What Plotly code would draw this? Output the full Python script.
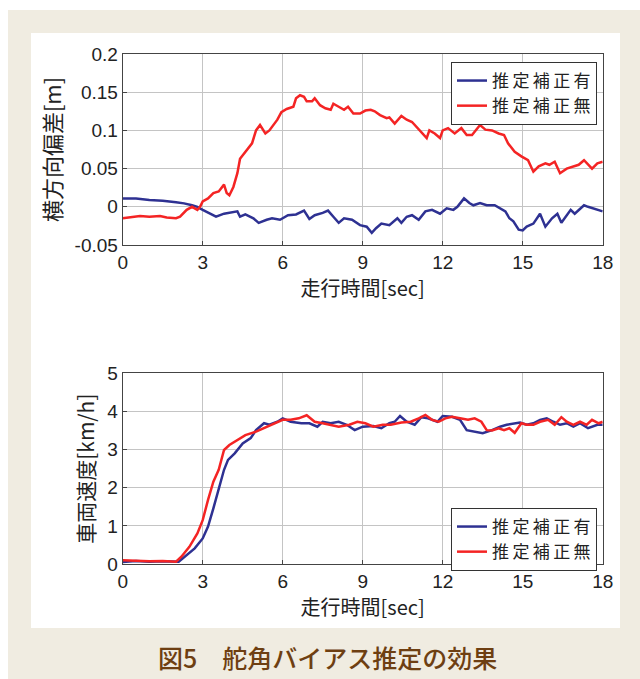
import plotly.graph_objects as go

W, H = 640, 679

# ---- lateral deviation [m] ----
dev_on_t = [0.0, 0.5, 1.0, 1.5, 2.0, 2.3, 2.6, 2.8, 3.0, 3.3, 3.5, 3.8, 4.0, 4.3, 4.4, 4.6, 4.9,
            5.1, 5.4, 5.6, 5.9, 6.2, 6.5, 6.8, 7.0, 7.2, 7.5, 7.7, 7.9, 8.1, 8.3, 8.6, 8.9, 9.15,
            9.34, 9.5, 9.7, 10.0, 10.3, 10.45, 10.65, 10.85, 11.1, 11.35, 11.6, 11.9, 12.15, 12.4,
            12.55, 12.8, 13.0, 13.15, 13.4, 13.65, 13.95, 14.15, 14.35, 14.5, 14.65, 14.85, 15.0,
            15.15, 15.4, 15.65, 15.85, 16.1, 16.3, 16.45, 16.8, 16.95, 17.3, 17.45, 17.8, 18.0]
dev_on = [0.011, 0.011, 0.009, 0.008, 0.006, 0.0045, 0.002, 0.0, -0.004, -0.009, -0.013, -0.009,
          -0.008, -0.006, -0.013, -0.010, -0.015, -0.021, -0.017, -0.015, -0.017, -0.011, -0.010,
          -0.005, -0.016, -0.011, -0.008, -0.005, -0.013, -0.021, -0.015, -0.017, -0.024, -0.026,
          -0.034, -0.028, -0.022, -0.024, -0.015, -0.021, -0.013, -0.011, -0.017, -0.006, -0.004,
          -0.009, -0.002, -0.004, 0.0, 0.011, 0.005, 0.002, 0.005, 0.002, 0.002, -0.002, -0.006,
          -0.015, -0.019, -0.030, -0.031, -0.026, -0.022, -0.009, -0.026, -0.015, -0.009, -0.021,
          -0.004, -0.009, 0.002, 0.0, -0.004, -0.006]

dev_off_t = [0.0, 0.4, 0.65, 1.0, 1.4, 1.65, 2.0, 2.15, 2.4, 2.6, 2.8, 2.9, 3.0, 3.2, 3.4, 3.6,
             3.8, 3.9, 4.0, 4.15, 4.3, 4.4, 4.65, 4.85, 5.0, 5.15, 5.35, 5.5, 5.8, 5.95, 6.15, 6.4,
             6.5, 6.65, 6.8, 6.9, 7.1, 7.2, 7.4, 7.6, 7.8, 7.9, 8.1, 8.3, 8.45, 8.65, 8.9, 9.1,
             9.3, 9.45, 9.65, 9.9, 10.0, 10.2, 10.45, 10.65, 10.85, 11.0, 11.2, 11.4, 11.5, 11.7,
             11.9, 12.0, 12.2, 12.45, 12.7, 12.9, 13.1, 13.4, 13.6, 13.85, 14.1, 14.3, 14.45, 14.7,
             14.95, 15.2, 15.4, 15.6, 15.85, 16.0, 16.2, 16.4, 16.65, 16.9, 17.1, 17.3, 17.45,
             17.6, 17.8, 18.0]
dev_off = [-0.015, -0.013, -0.012, -0.013, -0.012, -0.014, -0.015, -0.013, -0.004, 0.0, -0.004,
           0.0, 0.007, 0.011, 0.018, 0.020, 0.029, 0.018, 0.015, 0.026, 0.044, 0.063, 0.074,
           0.083, 0.100, 0.107, 0.096, 0.100, 0.114, 0.124, 0.128, 0.131, 0.142, 0.146, 0.144,
           0.138, 0.138, 0.142, 0.133, 0.129, 0.127, 0.135, 0.131, 0.127, 0.131, 0.122, 0.122,
           0.126, 0.127, 0.125, 0.120, 0.116, 0.117, 0.109, 0.119, 0.114, 0.111, 0.105, 0.098,
           0.090, 0.100, 0.096, 0.090, 0.100, 0.103, 0.096, 0.103, 0.094, 0.094, 0.107, 0.101,
           0.100, 0.096, 0.094, 0.083, 0.072, 0.066, 0.061, 0.046, 0.053, 0.057, 0.055, 0.059,
           0.044, 0.050, 0.053, 0.055, 0.061, 0.055, 0.050, 0.057, 0.059]

# ---- vehicle speed [km/h] ----
spd_on_t = [0.0, 0.5, 1.0, 1.5, 2.1, 2.4, 2.7, 3.0, 3.2, 3.4, 3.6, 3.8, 3.95, 4.2, 4.5, 4.8, 5.0,
            5.3, 5.5, 5.8, 6.0, 6.3, 6.7, 7.0, 7.3, 7.5, 7.8, 8.1, 8.4, 8.7, 9.0, 9.4, 9.7, 10.0,
            10.2, 10.4, 10.65, 10.95, 11.2, 11.45, 11.8, 12.0, 12.35, 12.65, 12.9, 13.15, 13.5,
            13.85, 14.15, 14.4, 14.65, 14.9, 15.15, 15.4, 15.65, 15.9, 16.15, 16.4, 16.65, 16.9,
            17.15, 17.45, 17.8, 18.0]
spd_on = [0.05, 0.08, 0.06, 0.07, 0.06, 0.24, 0.41, 0.67, 0.98, 1.46, 1.94, 2.47, 2.73, 2.90,
          3.16, 3.30, 3.51, 3.69, 3.65, 3.73, 3.82, 3.73, 3.69, 3.69, 3.60, 3.73, 3.69, 3.73,
          3.65, 3.51, 3.60, 3.62, 3.56, 3.69, 3.73, 3.88, 3.73, 3.65, 3.85, 3.82, 3.73, 3.88,
          3.86, 3.78, 3.51, 3.47, 3.43, 3.51, 3.60, 3.65, 3.69, 3.71, 3.65, 3.69, 3.78, 3.82,
          3.73, 3.65, 3.69, 3.60, 3.69, 3.56, 3.65, 3.65]

spd_off_t = [0.0, 0.5, 1.0, 1.5, 2.0, 2.2, 2.5, 2.8, 3.0, 3.2, 3.4, 3.6, 3.8, 4.0, 4.3, 4.6, 5.0,
             5.3, 5.6, 6.0, 6.3, 6.6, 6.9, 7.2, 7.5, 7.8, 8.1, 8.5, 8.8, 9.1, 9.4, 9.75, 10.05,
             10.45, 10.8, 11.1, 11.35, 11.6, 11.85, 12.1, 12.35, 12.65, 12.95, 13.2, 13.45, 13.65,
             13.85, 14.1, 14.3, 14.5, 14.7, 14.95, 15.15, 15.4, 15.65, 15.95, 16.2, 16.45, 16.65,
             16.9, 17.15, 17.4, 17.6, 17.85, 18.0]
spd_off = [0.10, 0.09, 0.07, 0.08, 0.06, 0.19, 0.45, 0.80, 1.15, 1.68, 2.16, 2.47, 2.99, 3.12,
           3.25, 3.38, 3.47, 3.56, 3.65, 3.78, 3.78, 3.82, 3.90, 3.73, 3.69, 3.65, 3.60, 3.65,
           3.73, 3.69, 3.60, 3.65, 3.65, 3.71, 3.73, 3.82, 3.91, 3.78, 3.73, 3.82, 3.86, 3.82,
           3.78, 3.82, 3.73, 3.51, 3.50, 3.56, 3.51, 3.56, 3.44, 3.69, 3.65, 3.65, 3.73, 3.78,
           3.65, 3.85, 3.73, 3.65, 3.73, 3.65, 3.78, 3.69, 3.73]

# ---- tick labels / names ----
x_ticks = [0, 3, 6, 9, 12, 15, 18]
dev_ticks = [-0.05, 0, 0.05, 0.1, 0.15, 0.2]
dev_tick_text = ["-0.05", "0", "0.05", "0.1", "0.15", "0.2"]
spd_ticks = [0, 1, 2, 3, 4, 5]
series_names = ["推\u2009定\u2009補\u2009正\u2009有", "推\u2009定\u2009補\u2009正\u2009無"]
x_title = "走行時間[sec]"
dev_title = "横方向偏差[m]"
spd_title = "車両速度[km/h]"
caption = "図5　舵角バイアス推定の効果"

BLUE = "#2e3192"
RED = "#f42424"
BEIGE = "#f0ece1"
GRID = "#c4c4c4"
FRAME = "#444444"
TICK_FONT = dict(family="Liberation Sans, Arial, sans-serif", size=19, color="#222222")
JP = "Noto Sans CJK JP, sans-serif"


def px_x(p):
    return p / W


def px_y(p):
    return 1 - p / H


fig = go.Figure()
fig.add_trace(go.Scatter(x=dev_on_t, y=dev_on, mode="lines", name=series_names[0],
                         line=dict(color=BLUE, width=2.5), xaxis="x", yaxis="y",
                         legend="legend"))
fig.add_trace(go.Scatter(x=dev_off_t, y=dev_off, mode="lines", name=series_names[1],
                         line=dict(color=RED, width=2.5), xaxis="x", yaxis="y",
                         legend="legend"))
fig.add_trace(go.Scatter(x=spd_on_t, y=spd_on, mode="lines", name=series_names[0],
                         line=dict(color=BLUE, width=2.5), xaxis="x2", yaxis="y2",
                         legend="legend2"))
fig.add_trace(go.Scatter(x=spd_off_t, y=spd_off, mode="lines", name=series_names[1],
                         line=dict(color=RED, width=2.5), xaxis="x2", yaxis="y2",
                         legend="legend2"))

x_dom = [px_x(122.7), px_x(602.7)]
common_x = dict(range=[0, 18], tickvals=x_ticks, showgrid=True, gridcolor=GRID, gridwidth=1,
                zeroline=False, showline=True, linecolor=FRAME, linewidth=1, mirror=True,
                ticks="inside", ticklen=4, tickcolor=FRAME, tickfont=TICK_FONT,
                automargin=False,
                title=dict(text=x_title, font=dict(family=JP, size=20, color="#222222"),
                           standoff=1),
                domain=x_dom)
common_y = dict(showgrid=True, gridcolor=GRID, gridwidth=1, zeroline=False, showline=True,
                linecolor=FRAME, linewidth=1, mirror=True, ticks="inside", ticklen=4,
                tickcolor=FRAME, tickfont=TICK_FONT, automargin=False)

legend_style = dict(bgcolor="white", bordercolor="#333333", borderwidth=1,
                    font=dict(family=JP, size=17, color="#222222"),
                    xanchor="right", yanchor="top", itemwidth=30, tracegroupgap=0,
                    xref="paper", yref="paper")

fig.update_layout(
    template="none",
    width=W, height=H,
    margin=dict(l=0, r=0, t=0, b=0, autoexpand=False),
    paper_bgcolor="white",
    plot_bgcolor="white",
    showlegend=True,
    xaxis=dict(common_x, anchor="y"),
    yaxis=dict(common_y, range=[-0.05, 0.2], tickvals=dev_ticks, ticktext=dev_tick_text,
               domain=[px_y(245), px_y(54)], anchor="x",
               title=dict(text=dev_title, font=dict(family=JP, size=22, color="#222222"),
                          standoff=6)),
    xaxis2=dict(common_x, anchor="y2"),
    yaxis2=dict(common_y, range=[0, 5], tickvals=spd_ticks,
                domain=[px_y(564), px_y(373.3)], anchor="x2",
                title=dict(text=spd_title, font=dict(family=JP, size=21, color="#222222"),
                           standoff=6)),
    legend=dict(legend_style, x=px_x(597), y=px_y(62)),
    legend2=dict(legend_style, x=px_x(597), y=px_y(508)),
    shapes=[
        dict(type="rect", xref="paper", yref="paper", x0=px_x(8), x1=1.0,
             y0=0.0, y1=px_y(10), fillcolor=BEIGE, line=dict(width=0), layer="below"),
        dict(type="rect", xref="paper", yref="paper", x0=px_x(31), x1=px_x(620),
             y0=px_y(628), y1=px_y(33), fillcolor="white", line=dict(width=0),
             layer="below"),
    ],
    annotations=[
        dict(text=caption, xref="paper", yref="paper", x=px_x(327), y=px_y(657),
             xanchor="center", yanchor="middle", showarrow=False,
             font=dict(family=JP, size=25, color="#6e3f12", weight=500)),
    ],
)

fig.write_html("out.html")
